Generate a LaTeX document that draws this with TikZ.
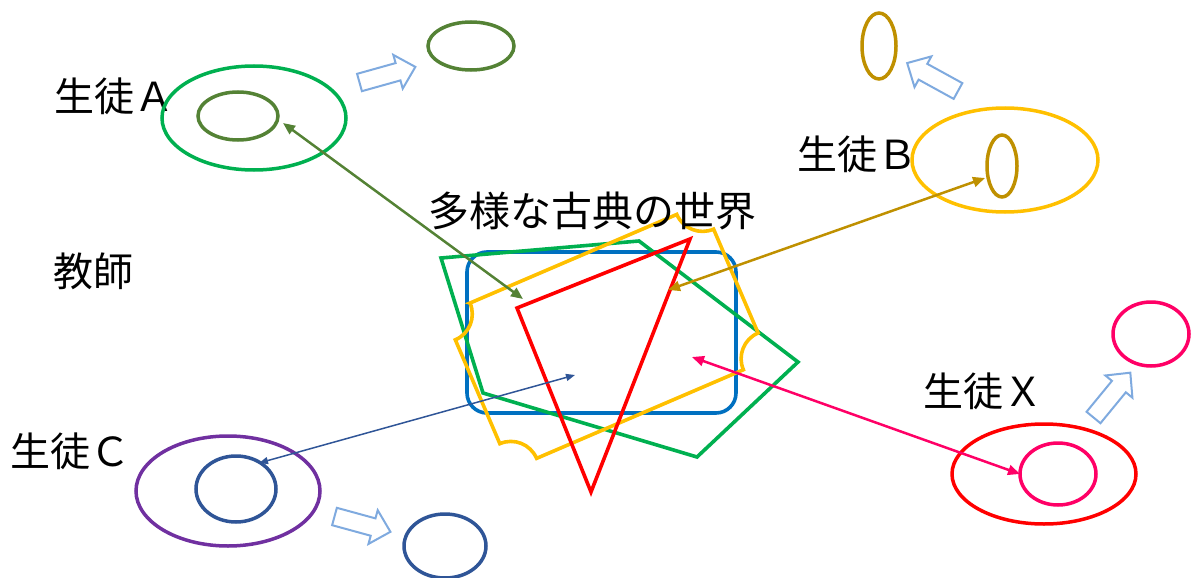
\documentclass[tikz,border=0pt]{standalone}
\usepackage{fontspec}
\setmainfont{Noto Sans CJK JP}
\usetikzlibrary{shapes.geometric,arrows.meta}
\definecolor{cGreen}{HTML}{00B050}
\definecolor{cOlive}{HTML}{548235}
\definecolor{cGold}{HTML}{FFC000}
\definecolor{cDGold}{HTML}{BF9000}
\definecolor{cPurple}{HTML}{7030A0}
\definecolor{cDBlue}{HTML}{2F5597}
\definecolor{cRed}{HTML}{FF0000}
\definecolor{cPink}{HTML}{FF0066}
\definecolor{cBlue}{HTML}{0070C0}
\definecolor{cBlk}{HTML}{7FAADF}
\tikzset{
  lbl/.style={inner sep=0pt, font=\fontsize{40}{48}\selectfont},
  ell/.style={ellipse, draw, line width=3.5pt, inner sep=0pt},
  conn/.style={line width=2.5pt, {Triangle[length=12pt,width=10pt]}-{Triangle[length=12pt,width=10pt]}},
  thinconn/.style={line width=1.5pt, {Triangle[length=9pt,width=7pt]}-{Triangle[length=9pt,width=7pt]}},
  blkarr/.style={draw=cBlk, fill=white, line width=2pt, line join=miter},
  shp/.style={line width=3.6pt, line join=miter},
  blockarrow/.pic={\draw[blkarr] (0,-9) -- (40,-9) -- (40,-17.5) -- (58,0) -- (40,17.5) -- (40,9) -- (0,9) -- cycle;}
}
\begin{document}
\begin{tikzpicture}[x=1pt,y=-1pt]
\useasboundingbox (0,0) rectangle (1192,578);

% central shapes
\node[draw=cBlue, line width=3.6pt, rounded corners=20pt, minimum width=269pt, minimum height=161pt, inner sep=0pt] (rect) at (601.5,332.5) {};
\draw[cGreen, shp] (441,258) -- (639,241) -- (798,362) -- (697,457) -- (483,393) -- cycle;
\begin{scope}[shift={(606.7,336.4)}, rotate=23.2]
\draw[cGold, shp] (-112.5,-84.5) -- (112.5,-84.5)
  .. controls (112.5,-69) and (125,-56.5) .. (140.5,-56.5) -- (140.5,56.5)
  .. controls (125,56.5) and (112.5,69) .. (112.5,84.5) -- (-112.5,84.5)
  .. controls (-112.5,69) and (-125,56.5) .. (-140.5,56.5) -- (-140.5,-56.5)
  .. controls (-125,-56.5) and (-112.5,-69) .. cycle;
\end{scope}
\draw[cRed, shp] (517,308) -- (690,239) -- (591,492) -- cycle;

% labels
\node[lbl] (tA) at (114,96) {生徒Ａ};
\node[lbl] (tB) at (857,154) {生徒Ｂ};
\node[lbl] (tC) at (70,451) {生徒Ｃ};
\node[lbl] (tX) at (983,391) {生徒Ｘ};
\node[lbl] (tT) at (93,271) {教師};
\node[lbl, font=\fontsize{41}{48}\selectfont] (tW) at (592,211) {多様な古典の世界};

% student A
\node[ell, draw=cGreen, minimum width=184pt, minimum height=104pt] (aOut) at (254,118) {};
\node[ell, draw=cOlive, minimum width=80pt, minimum height=48pt] (aIn) at (238,116) {};
\node[ell, draw=cOlive, minimum width=86pt, minimum height=48pt] (aTop) at (471,46) {};
\pic[rotate=15.6] (bkA) at (359.5,82.5) {blockarrow};

% student B
\node[ell, draw=cGold, minimum width=186pt, minimum height=104pt] (bOut) at (1005,160) {};
\node[ell, draw=cDGold, minimum width=30pt, minimum height=62pt] (bIn) at (1002,166) {};
\node[ell, draw=cDGold, minimum width=34pt, minimum height=66pt] (bTop) at (879,46) {};
\pic[rotate=151.2] (bkB) at (958,91) {blockarrow};

% student C
\node[ell, draw=cPurple, minimum width=184pt, minimum height=110pt] (cOut) at (228,491) {};
\node[ell, draw=cDBlue, minimum width=80pt, minimum height=66pt] (cIn) at (236,489) {};
\node[ell, draw=cDBlue, minimum width=82pt, minimum height=64pt] (cRight) at (445,546) {};
\pic[rotate=-15.3] (bkC) at (334.5,516.5) {blockarrow};

% student X
\node[ell, draw=cRed, minimum width=184pt, minimum height=100pt] (xOut) at (1044,474) {};
\node[ell, draw=cPink, minimum width=76pt, minimum height=62pt] (xIn) at (1058,474) {};
\node[ell, draw=cPink, minimum width=76pt, minimum height=64pt] (xTop) at (1151,334) {};
\pic[rotate=50.6] (bkX) at (1093.5,417.5) {blockarrow};

% connectors
\coordinate (pA) at (283,123);
\coordinate (qA) at (523,299);
\coordinate (pB) at (985,178);
\coordinate (qB) at (668,290);
\coordinate (pC) at (259,463);
\coordinate (qC) at (575,375);
\coordinate (pX) at (1020,474);
\coordinate (qX) at (692,357);
\draw[conn, cOlive] (pA) -- (qA);
\draw[conn, cDGold] (pB) -- (qB);
\draw[thinconn, cDBlue] (pC) -- (qC);
\draw[conn, cPink] (pX) -- (qX);
\end{tikzpicture}
\end{document}
